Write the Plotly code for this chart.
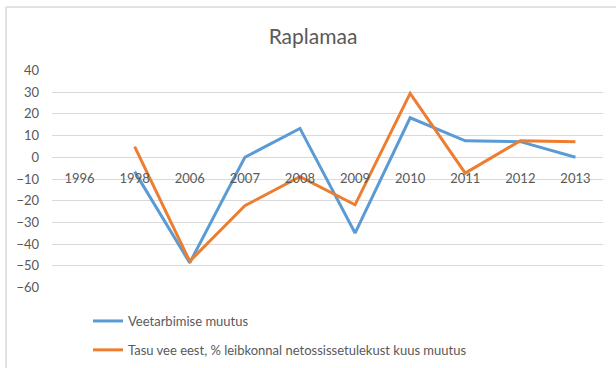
import plotly.graph_objects as go

# Aastad (kategooriad x-teljel)
years = ["1996", "1998", "2006", "2007", "2008", "2009", "2010", "2011", "2012", "2013"]

# Veetarbimise muutus, %
water_use_change = [None, -6.6, -48.6, 0.0, 13.3, -34.9, 18.2, 7.6, 7.2, 0.0]

# Tasu vee eest, % leibkonnal netosissetulekust kuus muutus
water_fee_change = [None, 4.9, -47.9, -22.3, -8.9, -21.9, 29.4, -7.3, 7.6, 7.2]

y_ticks = [40, 30, 20, 10, 0, -10, -20, -30, -40, -50, -60]

BLUE = "#5B9BD5"
ORANGE = "#ED7D31"
TEXT = "#595959"
GRID = "#D9D9D9"
FONT = "Lato, 'Liberation Sans', sans-serif"

fig = go.Figure()
fig.add_trace(go.Scatter(
    x=years, y=water_use_change, mode="lines",
    name="Veetarbimise muutus",
    line=dict(color=BLUE, width=3),
    legendgroup="a",
))
fig.add_trace(go.Scatter(
    x=years, y=water_fee_change, mode="lines",
    name="Tasu vee eest, % leibkonnal netossissetulekust kuus muutus",
    line=dict(color=ORANGE, width=3),
    legendgroup="b",
))

y_min, y_max = -60, 40

# chart frame: only the top and left edges fall inside the canvas
frame_x = (6 - 52) / 551
frame_y = (288 - 7) / 218

fig.update_layout(
    width=616, height=368,
    margin=dict(l=52, r=13, t=70, b=80, autoexpand=False),
    paper_bgcolor="white", plot_bgcolor="white",
    font=dict(family=FONT, size=13, color=TEXT),
    title=dict(
        text="Raplamaa", x=313 / 616, xref="container", xanchor="center",
        y=1 - 37 / 368, yref="container", yanchor="middle",
        font=dict(family=FONT, size=21, color=TEXT),
    ),
    xaxis=dict(
        type="category", categoryorder="array", categoryarray=years,
        range=[-0.5, len(years) - 0.5],
        showgrid=False, zeroline=False, showline=False,
        anchor="free", position=(0 - y_min) / (y_max - y_min),
        ticks="", ticklabelstandoff=12,
        tickfont=dict(family=FONT, size=13, color=TEXT),
        fixedrange=True, automargin=False,
    ),
    yaxis=dict(
        range=[y_min - 0.2, y_max + 0.2],
        tickvals=y_ticks,
        showgrid=True, gridcolor=GRID, gridwidth=1,
        zeroline=False, showline=False,
        ticks="", ticklabelstandoff=12,
        tickfont=dict(family=FONT, size=13, color=TEXT),
        fixedrange=True, automargin=False,
    ),
    showlegend=True,
    legend=dict(
        x=(88 - 52) / 551, xanchor="left",
        y=(288 - 306) / 218, yanchor="top",
        traceorder="grouped", tracegroupgap=9,
        font=dict(family=FONT, size=13, color=TEXT),
        bgcolor="rgba(0,0,0,0)",
        itemwidth=30,
    ),
    shapes=[
        dict(type="line", xref="paper", yref="paper",
             x0=frame_x, x1=1.1, y0=frame_y, y1=frame_y,
             line=dict(color=GRID, width=1.5), layer="below"),
        dict(type="line", xref="paper", yref="paper",
             x0=frame_x, x1=frame_x, y0=frame_y, y1=-0.6,
             line=dict(color=GRID, width=1.5), layer="below"),
    ],
)

fig.write_html("out.html", config={"displayModeBar": False, "staticPlot": True})
